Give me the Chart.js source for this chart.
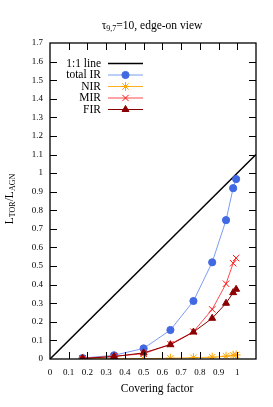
<!DOCTYPE html>
<html>
<head>
<meta charset="utf-8">
<script src="https://cdn.jsdelivr.net/npm/chart.js@4/dist/chart.umd.min.js"></script>
<style>
html,body{margin:0;padding:0;background:#fff;}
#wrap{width:273px;height:407px;position:relative;}
</style>
</head>
<body>
<div id="wrap"><canvas id="c" width="273" height="407"></canvas></div>
<script>
// ---- data ----
const coveringFactor = [0.174, 0.342, 0.5, 0.643, 0.766, 0.866, 0.940, 0.978, 0.994];
const totalIR = [0.005, 0.02, 0.057, 0.156, 0.312, 0.52, 0.747, 0.919, 0.968];
const nirValues = [0.001, 0.002, 0.002, 0.004, 0.007, 0.01, 0.015, 0.02, 0.022];
const mirValues = [0.003, 0.015, 0.028, 0.08, 0.147, 0.267, 0.405, 0.515, 0.543];
const firValues = [0.003, 0.013, 0.033, 0.077, 0.145, 0.219, 0.30, 0.357, 0.375];
const oneToOneX = [0, 1.1];
const oneToOneY = [0, 1.1];
const xTickValues = [0, 0.1, 0.2, 0.3, 0.4, 0.5, 0.6, 0.7, 0.8, 0.9, 1];
const xTickLabels = ['0', '0.1', '0.2', '0.3', '0.4', '0.5', '0.6', '0.7', '0.8', '0.9', '1'];
const yTickValues = [0, 0.1, 0.2, 0.3, 0.4, 0.5, 0.6, 0.7, 0.8, 0.9, 1, 1.1, 1.2, 1.3, 1.4, 1.5, 1.6, 1.7];
const yTickLabels = ['0', '0.1', '0.2', '0.3', '0.4', '0.5', '0.6', '0.7', '0.8', '0.9', '1', '1.1', '1.2', '1.3', '1.4', '1.5', '1.6', '1.7'];

const pts = (xs, ys) => xs.map((x, i) => ({x: x, y: ys[i]}));
const SERIF = '"Liberation Serif", "DejaVu Serif", serif';

const datasets = [
  {label: '1:1 line', data: pts(oneToOneX, oneToOneY), borderColor: '#000', borderWidth: 1.5,
   pointRadius: 0, showLine: true, order: 5},
  {label: 'total IR', data: pts(coveringFactor, totalIR), borderColor: '#7b9cf0', borderWidth: 1,
   pointStyle: 'circle', pointRadius: 3.6, pointBackgroundColor: '#4169e1', pointBorderColor: '#4169e1',
   showLine: true, order: 4},
  {label: 'NIR', data: pts(coveringFactor, nirValues), borderColor: '#ffb020', borderWidth: 1,
   pointStyle: 'star', pointRadius: 4.5, pointBorderColor: '#ffa500', pointBackgroundColor: '#ffa500',
   pointBorderWidth: 1, showLine: true, order: 3},
  {label: 'MIR', data: pts(coveringFactor, mirValues), borderColor: '#ff4a4a', borderWidth: 1,
   pointStyle: 'crossRot', pointRadius: 4.5, pointBorderColor: '#ff1010', pointBackgroundColor: '#ff1010',
   pointBorderWidth: 1, showLine: true, order: 2},
  {label: 'FIR', data: pts(coveringFactor, firValues), borderColor: '#8b0000', borderWidth: 1,
   pointStyle: 'triangle', pointRadius: 4, pointBorderColor: '#8b0000', pointBackgroundColor: '#8b0000',
   pointBorderWidth: 1, showLine: true, order: 1}
];

function drawSubText(ctx, parts, x, y, align) {
  let total = 0;
  const widths = parts.map(p => {
    ctx.font = (p.sub ? '8px ' : '11.5px ') + SERIF;
    const w = ctx.measureText(p.t).width;
    total += w;
    return w;
  });
  let cx = align === 'center' ? x - total / 2 : x;
  parts.forEach((p, i) => {
    ctx.font = (p.sub ? '8px ' : '11.5px ') + SERIF;
    ctx.fillText(p.t, cx, y + (p.sub ? 3 : 0));
    cx += widths[i];
  });
}

const framePlugin = {
  id: 'frame',
  afterDatasetsDraw(chart) {
    const ctx = chart.ctx;
    const a = chart.chartArea;
    const xs = chart.scales.x, ys = chart.scales.y;
    ctx.save();
    ctx.strokeStyle = '#000';
    ctx.lineWidth = 1;
    const tl = 7;
    ctx.beginPath();
    xTickValues.forEach(v => {
      const px = Math.round(xs.getPixelForValue(v)) + 0.5;
      if (px <= a.left + 1 || px >= a.right - 1) return;
      ctx.moveTo(px, a.bottom); ctx.lineTo(px, a.bottom - tl);
      ctx.moveTo(px, a.top); ctx.lineTo(px, a.top + tl);
    });
    yTickValues.forEach(v => {
      const py = Math.round(ys.getPixelForValue(v)) + 0.5;
      if (py <= a.top + 1 || py >= a.bottom - 1) return;
      ctx.moveTo(a.left, py); ctx.lineTo(a.left + tl, py);
      ctx.moveTo(a.right, py); ctx.lineTo(a.right - tl, py);
    });
    ctx.stroke();
    ctx.lineWidth = 1.3;
    ctx.strokeRect(a.left, a.top, a.right - a.left, a.bottom - a.top);

    // legend
    ctx.textBaseline = 'middle';
    const rowY0 = 63.5, step = 11.5, textRight = 101, lx0 = 108, lx1 = 143;
    chart.data.datasets.forEach((ds, i) => {
      const y = rowY0 + i * step;
      ctx.font = '11.5px ' + SERIF;
      ctx.textAlign = 'right';
      ctx.fillStyle = '#000';
      ctx.fillText(ds.label, textRight, y);
      ctx.beginPath();
      ctx.strokeStyle = ds.borderColor;
      ctx.lineWidth = ds.borderWidth;
      ctx.moveTo(lx0, y); ctx.lineTo(lx1, y);
      ctx.stroke();
      if (ds.pointRadius > 0) {
        ctx.fillStyle = ds.pointBackgroundColor;
        ctx.strokeStyle = ds.pointBorderColor;
        ctx.lineWidth = ds.pointBorderWidth || 1;
        Chart.helpers.drawPoint(ctx, {
          pointStyle: ds.pointStyle, radius: ds.pointRadius, rotation: 0,
          borderWidth: ds.pointBorderWidth || 1
        }, (lx0 + lx1) / 2, y);
      }
    });

    // title
    ctx.fillStyle = '#000';
    ctx.textAlign = 'left';
    ctx.textBaseline = 'middle';
    drawSubText(ctx, [{t: 'τ'}, {t: '9,7', sub: true}, {t: '=10, edge-on view'}], 152, 26, 'center');

    // x title
    ctx.font = '11.5px ' + SERIF;
    ctx.textAlign = 'center';
    ctx.fillText('Covering factor', 157, 389);

    // y title
    ctx.save();
    ctx.translate(10, 199);
    ctx.rotate(-Math.PI / 2);
    ctx.textAlign = 'left';
    drawSubText(ctx, [{t: 'L'}, {t: 'TOR', sub: true}, {t: '/L'}, {t: 'AGN', sub: true}], 0, 0, 'center');
    ctx.restore();
    ctx.restore();
  }
};

new Chart(document.getElementById('c'), {
  type: 'scatter',
  data: {datasets: datasets},
  options: {
    responsive: false,
    animation: false,
    layout: {padding: {top: 43, right: 17, left: 0, bottom: 0}},
    plugins: {legend: {display: false}, tooltip: {enabled: false}, title: {display: false}},
    elements: {line: {tension: 0}},
    scales: {
      x: {
        type: 'linear', min: 0, max: 1.1,
        afterFit(s) { s.height = 48; },
        afterBuildTicks(s) { s.ticks = xTickValues.map(v => ({value: v})); },
        grid: {display: false, drawTicks: false},
        border: {display: false},
        ticks: {
          padding: 8, color: '#000', font: {family: SERIF, size: 9}, maxRotation: 0, autoSkip: false,
          callback(v) { const i = xTickValues.findIndex(t => Math.abs(t - v) < 1e-6); return i >= 0 ? xTickLabels[i] : ''; }
        }
      },
      y: {
        type: 'linear', min: 0, max: 1.7,
        afterFit(s) { s.width = 50; },
        afterBuildTicks(s) { s.ticks = yTickValues.map(v => ({value: v})); },
        grid: {display: false, drawTicks: false},
        border: {display: false},
        ticks: {
          padding: 7, color: '#000', font: {family: SERIF, size: 9}, autoSkip: false,
          callback(v) { const i = yTickValues.findIndex(t => Math.abs(t - v) < 1e-6); return i >= 0 ? yTickLabels[i] : ''; }
        }
      }
    }
  },
  plugins: [framePlugin]
});
</script>
</body>
</html>
